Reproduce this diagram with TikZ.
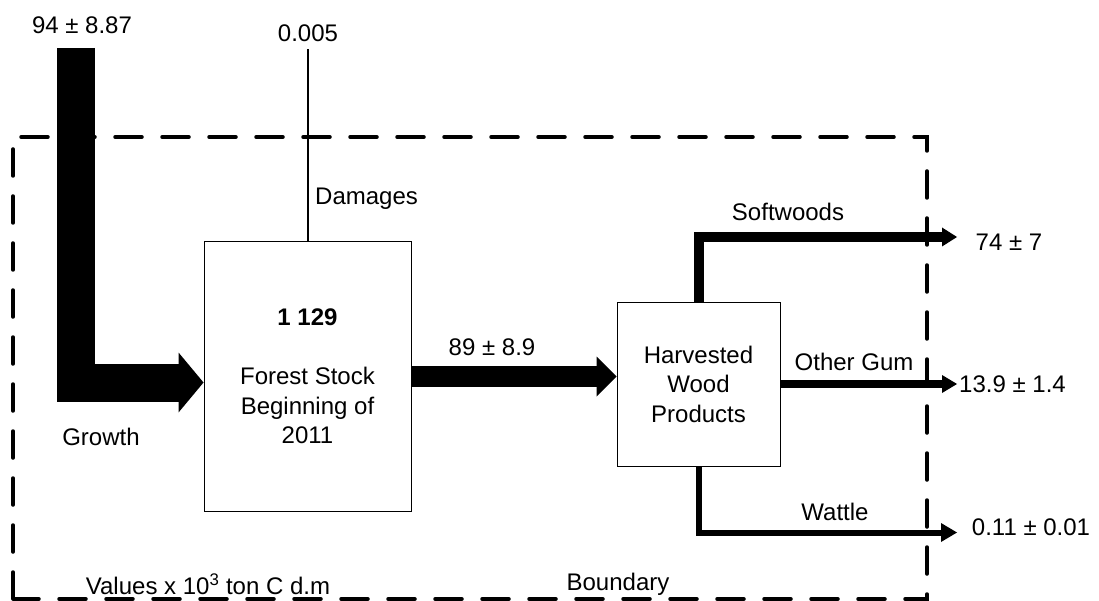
\documentclass[tikz,border=0pt]{standalone}
\usepackage{fontspec}
\setmainfont{Liberation Sans}
\usetikzlibrary{calc}
\begin{document}
\begin{tikzpicture}[x=1pt,y=-1pt,
  lbl/.style={inner sep=0pt, font=\fontsize{24}{29.5}\selectfont},
  stockbox/.style={draw, line width=1pt, inner sep=0pt, align=center,
    font=\fontsize{24}{29.5}\selectfont},
  shaft/.style={draw=black, line join=miter, line cap=butt},
  boundary/.style={draw=black, line width=3.5pt, dash pattern=on 27pt off 20pt,
    line cap=round}
]
\useasboundingbox (0,0) rectangle (1099,601);

% system boundary
\draw[boundary] (13,599) -- (13,137) -- (927,137) -- (927,599) -- cycle;

% stocks
\node[stockbox, minimum width=207pt, minimum height=269pt] (forest) at (307.5,376.5)
  {\textbf{1 129}\\[29.5pt]Forest Stock\\Beginning of\\2011};
\node[stockbox, minimum width=163pt, minimum height=164pt] (hwp) at (698.5,384)
  {Harvested\\Wood\\Products};

% free ends of the flows
\coordinate (growthsrc) at (75.5,48);
\coordinate (dmgout) at (307.5,49);
\coordinate (swout) at (957,237);
\coordinate (gumout) at (957,384);
\coordinate (watout) at (957,532.5);

% growth into the forest stock
\coordinate (gtip) at ($(forest.west)+(0,6)$);
\draw[shaft, line width=38pt] (growthsrc) |- ($(gtip)+(-24,0)$);
\fill ($(gtip)+(-25,-30)$) -- (gtip) -- ($(gtip)+(-25,30)$) -- cycle;

% damages
\draw[line width=2pt] (forest.north) -- (dmgout);

% harvest
\coordinate (htip) at (forest.east -| hwp.west);
\draw[shaft, line width=21pt] (forest.east) -- ($(htip)+(-19,0)$);
\fill ($(htip)+(-20,-20)$) -- (htip) -- ($(htip)+(-20,20)$) -- cycle;

% softwoods
\draw[shaft, line width=10pt] (hwp.north) |- ($(swout)+(-14,0)$);
\fill ($(swout)+(-15,-9.5)$) -- (swout) -- ($(swout)+(-15,9.5)$) -- cycle;

% other gum
\draw[shaft, line width=8pt] (hwp.east |- gumout) -- ($(gumout)+(-14,0)$);
\fill ($(gumout)+(-15,-9)$) -- (gumout) -- ($(gumout)+(-15,9)$) -- cycle;

% wattle
\draw[shaft, line width=6pt] (hwp.south) |- ($(watout)+(-15,0)$);
\fill ($(watout)+(-16,-9.5)$) -- (watout) -- ($(watout)+(-16,9.5)$) -- cycle;

% labels
\node[lbl] (lgrowthval) at (82,25) {94 ± 8.87};
\node[lbl] (ldmgval) at (308,33) {0.005};
\node[lbl, anchor=west] (ldmg) at (315,199) {Damages};
\node[lbl] (lgrowth) at (101,437) {Growth};
\node[lbl] (lharv) at (492,347) {89 ± 8.9};
\node[lbl] (lsw) at (788,212) {Softwoods};
\node[lbl] (lswval) at (1009,242) {74 ± 7};
\node[lbl] (lgum) at (854,362) {Other Gum};
\node[lbl, anchor=west] (lgumval) at (959,384) {13.9 ± 1.4};
\node[lbl] (lwat) at (835,512) {Wattle};
\node[lbl] (lwatval) at (1031,527) {0.11 ± 0.01};
\node[lbl] (lunits) at (208,584) {Values x 10\textsuperscript{3} ton C d.m};
\node[lbl] (lbound) at (618,584) {Boundary};
\end{tikzpicture}
\end{document}
